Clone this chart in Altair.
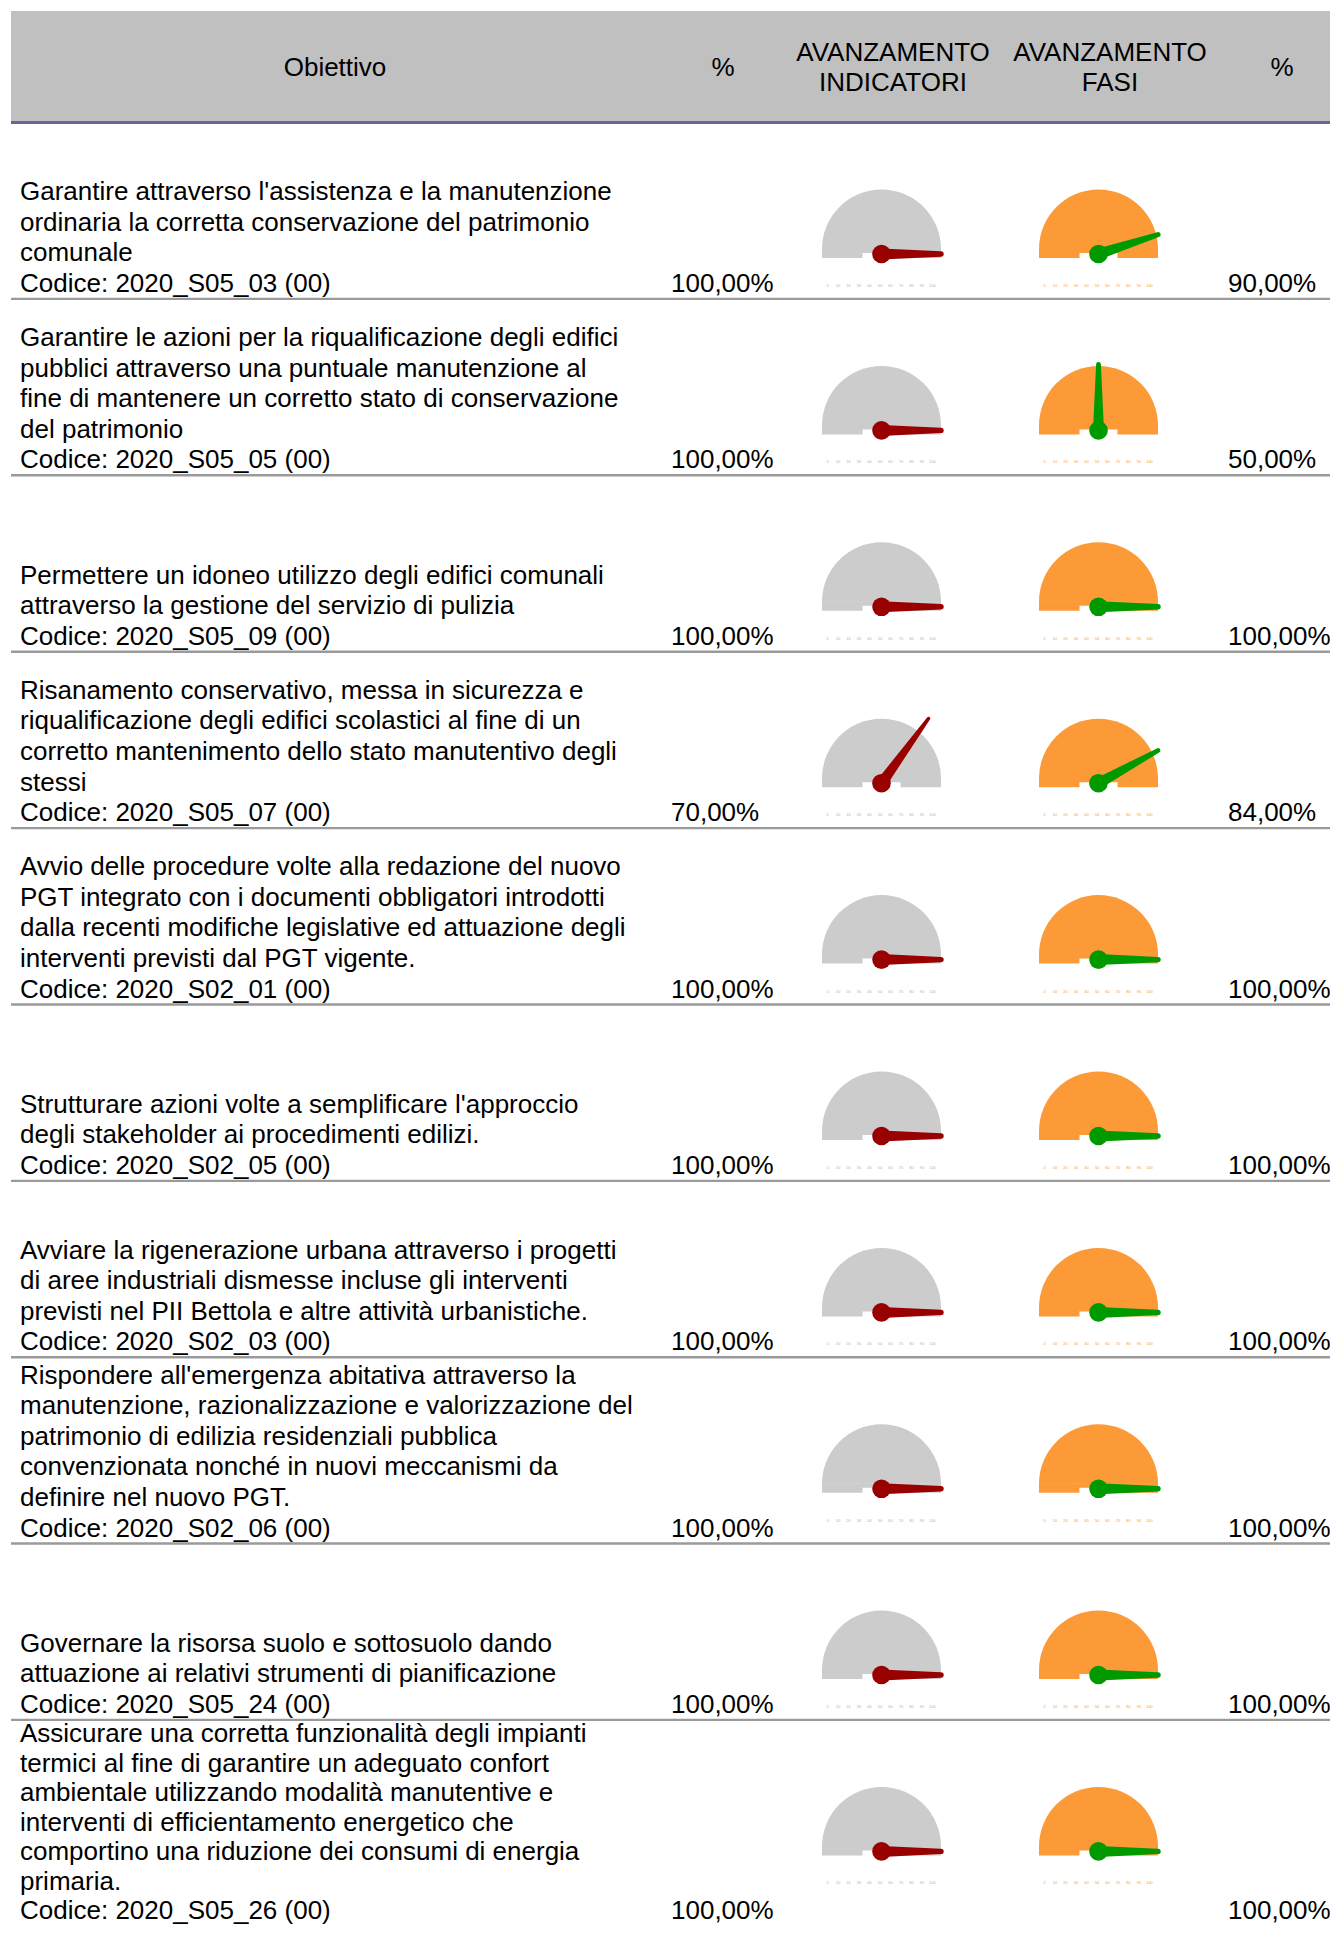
import math
import altair as alt
import pandas as pd

# ---------------- data ----------------
header_labels = ["Obiettivo", "%", "AVANZAMENTO|INDICATORI", "AVANZAMENTO|FASI", "%"]

objective_lines = [
    ["Garantire attraverso l'assistenza e la manutenzione",
     "ordinaria la corretta conservazione del patrimonio",
     "comunale"],
    ["Garantire le azioni per la riqualificazione degli edifici",
     "pubblici attraverso una puntuale manutenzione al",
     "fine di mantenere un corretto stato di conservazione",
     "del patrimonio"],
    ["Permettere un idoneo utilizzo degli edifici comunali",
     "attraverso la gestione del servizio di pulizia"],
    ["Risanamento conservativo, messa in sicurezza e",
     "riqualificazione degli edifici scolastici al fine di un",
     "corretto mantenimento dello stato manutentivo degli",
     "stessi"],
    ["Avvio delle procedure volte alla redazione del nuovo",
     "PGT integrato con i documenti obbligatori introdotti",
     "dalla recenti modifiche legislative ed attuazione degli",
     "interventi previsti dal PGT vigente."],
    ["Strutturare azioni volte a semplificare l'approccio",
     "degli stakeholder ai procedimenti edilizi."],
    ["Avviare la rigenerazione urbana attraverso i progetti",
     "di aree industriali dismesse incluse gli interventi",
     "previsti nel PII Bettola e altre attività urbanistiche."],
    ["Rispondere all'emergenza abitativa attraverso la",
     "manutenzione, razionalizzazione e valorizzazione del",
     "patrimonio di edilizia residenziali pubblica",
     "convenzionata nonché in nuovi meccanismi da",
     "definire nel nuovo PGT."],
    ["Governare la risorsa suolo e sottosuolo dando",
     "attuazione ai relativi strumenti di pianificazione"],
    ["Assicurare una corretta funzionalità degli impianti",
     "termici al fine di garantire un adeguato confort",
     "ambientale utilizzando modalità manutentive e",
     "interventi di efficientamento energetico che",
     "comportino una riduzione dei consumi di energia",
     "primaria."],
]
codes = ["2020_S05_03 (00)", "2020_S05_05 (00)", "2020_S05_09 (00)", "2020_S05_07 (00)",
         "2020_S02_01 (00)", "2020_S02_05 (00)", "2020_S02_03 (00)", "2020_S02_06 (00)",
         "2020_S05_24 (00)", "2020_S05_26 (00)"]
indicatori_pct = [100, 100, 100, 70, 100, 100, 100, 100, 100, 100]
fasi_pct = [90, 50, 100, 84, 100, 100, 100, 100, 100, 100]
gauge_ticks = [0, 10, 20, 30, 40, 50, 60, 70, 80, 90, 100]

# ---------------- layout / style ----------------
FONT = "Liberation Sans"
FS = 26
LINE_H = 30.6
HEADER_TOP, HEADER_BOT = 11, 121
HEADER_LINE = 122.5
MIN_ROW_H = 176.4
TEXT_X = 20
PCT1_X = 671
PCT2_X = 1228
IND_CX = 881.5
FASI_CX = 1098.5
G_R = 59.5
NEEDLE_L = 80
GRAY = "#cccccc"
ORANGE = "#fd9a38"
RED = "#990000"
GREEN = "#009900"

W, H = 1322, 1918
BOTTOM_LIMIT = 8 + H - 7   # keep last baseline inside the drawing
xs = alt.Scale(domain=[8, 8 + W], nice=False, zero=False)
ys = alt.Scale(domain=[8, 8 + H], nice=False, zero=False, reverse=True)


def X(f="x"):
    return alt.X(f"{f}:Q", scale=xs, axis=None)


def Y(f="y"):
    return alt.Y(f"{f}:Q", scale=ys, axis=None)


def fmt(v):
    return f"{v:.2f}".replace(".", ",") + "%"


# row geometry
tops, bots = [], []
t = HEADER_LINE
for lines in objective_lines:
    n = len(lines) + 1
    h = max(MIN_ROW_H, 30.5 * n + 3.2)
    tops.append(t)
    bots.append(t + h)
    t += h

# ---------------- tables ----------------
rects = [dict(x=HEADER_TOP, x2=8 + W, y=HEADER_TOP, y2=HEADER_BOT, c="#c0c0c0"),
         dict(x=HEADER_TOP, x2=8 + W, y=HEADER_BOT, y2=124, c="#66669a")]
for b in bots:
    if b < 8 + H:
        rects.append(dict(x=HEADER_TOP, x2=8 + W, y=b - 1.2, y2=b + 1.2, c="#9a9a9a"))

texts = []
hx = [335, 723, 893, 1110, 1282]
for lab, x in zip(header_labels, hx):
    parts = lab.split("|")
    if len(parts) == 1:
        texts.append(dict(x=x, y=76, t=parts[0], a="center"))
    else:
        texts.append(dict(x=x, y=61, t=parts[0], a="center"))
        texts.append(dict(x=x, y=90.5, t=parts[1], a="center"))

for i, lines in enumerate(objective_lines):
    allines = lines + ["Codice: " + codes[i]]
    n = len(allines)
    base = bots[i] - 7
    step = LINE_H
    if base > BOTTOM_LIMIT:
        base = BOTTOM_LIMIT
        first = tops[i] + 22.5
        step = (base - first) / (n - 1)
    for j, ln in enumerate(allines):
        texts.append(dict(x=TEXT_X, y=base - (n - 1 - j) * step, t=ln, a="left"))
    texts.append(dict(x=PCT1_X, y=base, t=fmt(indicatori_pct[i]), a="left"))
    texts.append(dict(x=PCT2_X, y=base, t=fmt(fasi_pct[i]), a="left"))
texts_df = pd.DataFrame(texts)

arcs, grects, needles, hubs, ticks = [], [], [], [], []
for i in range(len(objective_lines)):
    hub = tops[i] + 131.5
    for cx, val, bg, nc, tc, key in [(IND_CX, indicatori_pct[i], GRAY, RED, "#b4b4b4", "i"),
                                      (FASI_CX, fasi_pct[i], ORANGE, GREEN, ORANGE, "f")]:
        arcs.append(dict(x=cx, y=hub - 5, c=bg))
        grects.append(dict(x=cx - G_R, x2=cx - 19, y=hub - 5.5, y2=hub + 4, c=bg))
        grects.append(dict(x=cx + 19, x2=cx + G_R, y=hub - 5.5, y2=hub + 4, c=bg))
        grects.append(dict(x=cx - 19.5, x2=cx + 19.5, y=hub - 5.5, y2=hub - 1, c=bg))
        phi = math.pi * (1 - val / 100.0)
        dx, dy = math.cos(phi), -math.sin(phi)
        tmax = NEEDLE_L
        if dx > 1e-9:
            tmax = min(tmax, G_R / dx)
        if dx < -1e-9:
            tmax = min(tmax, G_R / -dx)
        if dy < -1e-9:
            tmax = min(tmax, 66 / -dy)
        w0, w1 = 11.0, 3.5
        wt = w0 + (w1 - w0) * tmax / NEEDLE_L
        nid = f"{key}{i}"
        needles.append(dict(x=cx, y=hub, w=w0, c=nc, id=nid, k=0))
        needles.append(dict(x=cx + dx * tmax, y=hub + dy * tmax, w=wt, c=nc, id=nid, k=1))
        hubs.append(dict(x=cx, y=hub, c=nc))
        for tk in gauge_ticks:
            ticks.append(dict(x=cx - 54 + tk / 100 * 105, y=hub + 33, t=str(tk), c=tc))

rect_df = pd.DataFrame(rects)
arc_df = pd.DataFrame(arcs)
grect_df = pd.DataFrame(grects)
needle_df = pd.DataFrame(needles)
hub_df = pd.DataFrame(hubs)
tick_df = pd.DataFrame(ticks)

# ---------------- layers ----------------
bg_layer = alt.Chart(rect_df).mark_rect().encode(
    x=X(), x2="x2:Q", y=Y(), y2="y2:Q", color=alt.Color("c:N", scale=None))

arc_layer = alt.Chart(arc_df).mark_arc(radius=G_R, theta=4.712389, theta2=7.853982).encode(
    x=X(), y=Y(), color=alt.Color("c:N", scale=None))

grect_layer = alt.Chart(grect_df).mark_rect().encode(
    x=X(), x2="x2:Q", y=Y(), y2="y2:Q", color=alt.Color("c:N", scale=None))

tick_layer = alt.Chart(tick_df).mark_text(font=FONT, fontSize=4, align="center",
                                          baseline="alphabetic").encode(
    x=X(), y=Y(), text="t:N", color=alt.Color("c:N", scale=None))

needle_layer = alt.Chart(needle_df).mark_trail().encode(
    x=X(), y=Y(), size=alt.Size("w:Q", scale=None), detail="id:N",
    order="k:Q", color=alt.Color("c:N", scale=None))

hub_layer = alt.Chart(hub_df).mark_circle(size=346, opacity=1).encode(
    x=X(), y=Y(), color=alt.Color("c:N", scale=None))

text_left = alt.Chart(texts_df[texts_df.a == "left"]).mark_text(
    font=FONT, fontSize=FS, align="left", baseline="alphabetic", color="#000000").encode(
    x=X(), y=Y(), text="t:N")
text_center = alt.Chart(texts_df[texts_df.a == "center"]).mark_text(
    font=FONT, fontSize=FS, align="center", baseline="alphabetic", color="#000000").encode(
    x=X(), y=Y(), text="t:N")

chart = alt.layer(bg_layer, arc_layer, grect_layer, tick_layer, needle_layer, hub_layer,
                  text_left, text_center).properties(
    width=W, height=H,
    autosize=alt.AutoSizeParams(type="none"),
    padding=0,
    background="white",
).configure_view(stroke=None)

chart.save("out.html", embed_options={"renderer": "svg", "actions": False})
